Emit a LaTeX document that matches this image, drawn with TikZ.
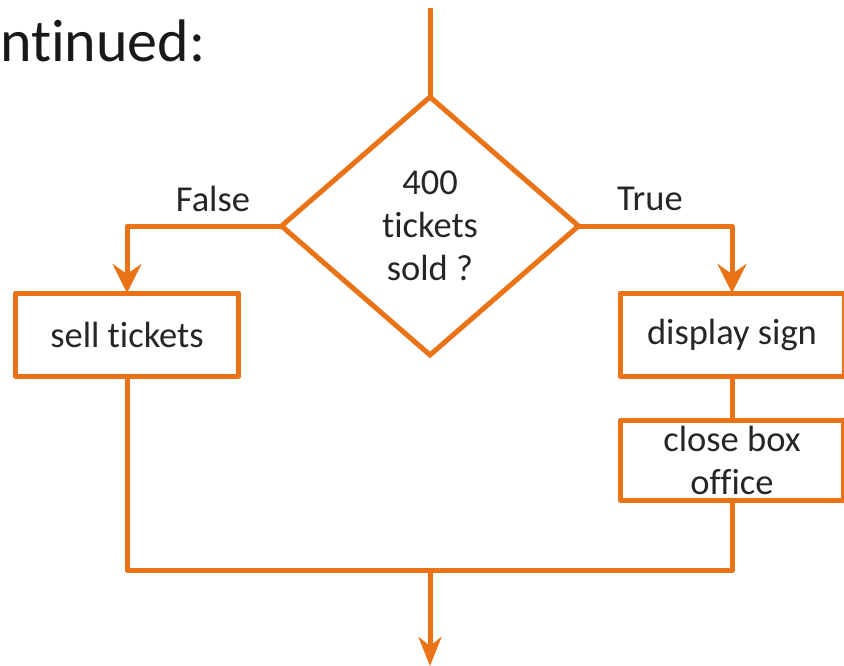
\documentclass[tikz,border=0pt]{standalone}
\usepackage{fontspec}
\setmainfont[Ligatures=NoCommon]{Carlito}
\usetikzlibrary{shapes.geometric,arrows.meta}
\definecolor{flow}{RGB}{233,115,22}
\definecolor{txt}{RGB}{38,38,38}
\tikzset{
  ln/.style={draw=flow,line width=5pt,line join=round},
  arr/.style={ln,-{Stealth[length=29pt,width=29pt,inset=10pt]}},
  arrthin/.style={ln,-{Stealth[length=29pt,width=23pt,inset=9pt]}},
  box/.style={draw=flow,line width=5pt,rectangle,outer sep=0pt,inner sep=0pt,
    text=txt,font=\fontsize{36.5}{43}\selectfont,align=center,line join=round},
  dec/.style={draw=flow,line width=5pt,diamond,outer sep=0pt,inner sep=0pt,
    minimum width=297pt,minimum height=258pt,text=txt,
    font=\fontsize{36.5}{43}\selectfont,align=center},
  lab/.style={text=txt,font=\fontsize{36.5}{43}\selectfont},
}
\begin{document}
\begin{tikzpicture}[x=1pt,y=-1pt]
\useasboundingbox (0,0) rectangle (844,666);
\node[anchor=base west,text=black!90,font=\fontsize{60}{70}\selectfont,inner sep=0pt] (head) at (0,62) {ntinued:};
\coordinate (top) at (430,8);
\node[dec] (d) at (430,226) {400\\tickets\\sold ?};
\node[box,minimum width=223pt,minimum height=83pt] (sell) at (127,334.5) {sell tickets};
\node[box,minimum width=224pt,minimum height=83pt] (disp) at (732,334.5) {display sign};
\node[box,minimum width=223pt,minimum height=80pt] (close) at (732,460) {close box\\office};
\node[lab] (f) at (213,199) {False};
\node[lab] (t) at (650,199) {True};
\coordinate (j) at (430,570);
\coordinate (out) at (430,666);
\draw[ln] (top) -- (d.north);
\draw[arr] (d.west) -| (sell.north);
\draw[arr] (d.east) -| (disp.north);
\draw[ln] (disp.south) -- (close.north);
\draw[ln] (sell.south) |- (j);
\draw[ln] (close.south) |- (j);
\draw[arrthin] (j) -- (out);
\end{tikzpicture}
\end{document}
